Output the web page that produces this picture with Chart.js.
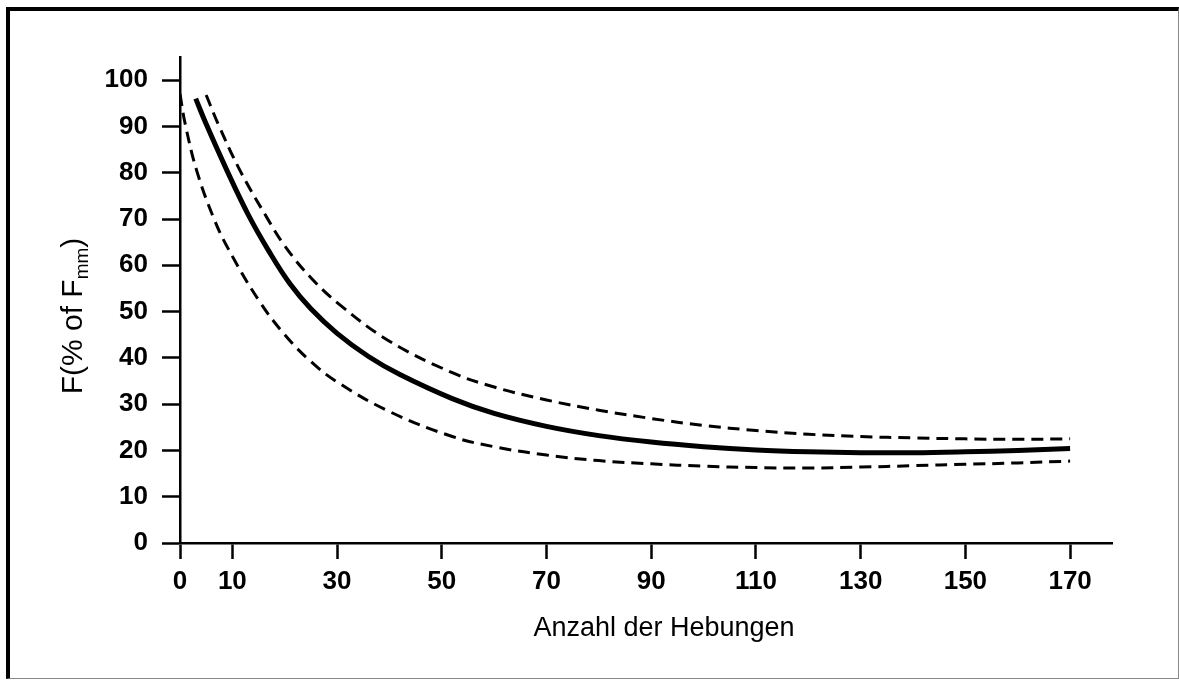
<!DOCTYPE html>
<html>
<head>
<meta charset="utf-8">
<script src="https://cdn.jsdelivr.net/npm/chart.js@4/dist/chart.umd.min.js"></script>
<style>
  html, body { margin: 0; padding: 0; background: #fff; }
  #frame {
    position: absolute; left: 6px; top: 7px; width: 1168px; height: 667px;
    border-top: 4px solid #000; border-left: 4px solid #000;
    border-right: 1px solid #888; border-bottom: 1px solid #888;
  }
  #grafico { position: absolute; left: 0; top: 0; }
</style>
</head>
<body>
<div id="frame"></div>
<canvas id="grafico" width="1179" height="680"></canvas>
<script>
// Datos
const xTicks = [0, 10, 30, 50, 70, 90, 110, 130, 150, 170];
const yTicks = [0, 10, 20, 30, 40, 50, 60, 70, 80, 90, 100];

// curva media (linea continua)
const mediaX = [3, 5, 9, 13, 17, 21, 25, 30, 36, 42, 52, 60, 70, 80, 90, 100, 110, 120, 130, 140, 150, 160, 170];
const mediaY = [96, 90.5, 80.4, 71, 63, 56, 50.6, 45.3, 40.3, 36.4, 31.2, 28, 25.2, 23.2, 21.8, 20.8, 20.1, 19.7, 19.5, 19.5, 19.7, 20, 20.4];

// limite superior (discontinua)
const superiorX = [5, 7.3, 11.5, 16.6, 20, 25, 30.6, 40, 52, 60, 70, 80, 90, 100, 110, 120, 130, 140, 150, 160, 170];
const superiorY = [96.8, 90.5, 80.4, 70.3, 64.2, 57.3, 51.4, 43.6, 36.8, 33.7, 30.9, 28.7, 26.9, 25.4, 24.3, 23.5, 23, 22.7, 22.5, 22.4, 22.5];

// limite inferior (discontinua)
const inferiorX = [0, 1, 3.2, 6.4, 9.2, 15, 20, 25, 30, 40, 52, 60, 70, 80, 90, 100, 110, 120, 130, 140, 150, 160, 170];
const inferiorY = [97, 90.5, 80.4, 70.3, 63.6, 52.5, 45, 39.2, 34.8, 28.4, 23, 20.8, 19, 17.8, 17.1, 16.6, 16.3, 16.2, 16.4, 16.7, 17, 17.3, 17.7];

function puntos(xs, ys) {
  return xs.map(function(x, i) { return { x: x, y: ys[i] }; });
}

// titulos de ejes (con subindice en el eje y)
const titulosEjes = {
  id: 'titulosEjes',
  afterDraw: function(chart) {
    const ctx = chart.ctx;
    ctx.save();
    ctx.fillStyle = '#000';
    ctx.textBaseline = 'alphabetic';

    ctx.font = '27px "Liberation Sans", Arial, sans-serif';
    ctx.textAlign = 'center';
    ctx.fillText('Anzahl der Hebungen', 664, 636);

    ctx.translate(82, 316);
    ctx.rotate(-Math.PI / 2);
    const f1 = '30px "Liberation Sans", Arial, sans-serif';
    const f2 = '19px "Liberation Sans", Arial, sans-serif';
    ctx.font = f1;
    const a = 'F(% of F';
    const wa = ctx.measureText(a).width;
    const wc = ctx.measureText(')').width;
    ctx.font = f2;
    const wb = ctx.measureText('mm').width;
    let x = -(wa + wb + wc) / 2;
    ctx.textAlign = 'left';
    ctx.font = f1;
    ctx.fillText(a, x, 0);
    x += wa;
    ctx.font = f2;
    ctx.fillText('mm', x, 6);
    x += wb;
    ctx.font = f1;
    ctx.fillText(')', x, 0);
    ctx.restore();
  }
};

const fuenteTicks = { family: '"Liberation Sans", Arial, sans-serif', size: 26, weight: 'bold' };

const ctx = document.getElementById('grafico').getContext('2d');
new Chart(ctx, {
  type: 'line',
  data: {
    datasets: [
      {
        label: 'media',
        data: puntos(mediaX, mediaY),
        borderColor: '#000',
        borderWidth: 5,
        pointRadius: 0,
        tension: 0.4
      },
      {
        label: 'superior',
        data: puntos(superiorX, superiorY),
        borderColor: '#000',
        borderWidth: 3,
        borderDash: [12, 7],
        pointRadius: 0,
        tension: 0.4
      },
      {
        label: 'inferior',
        data: puntos(inferiorX, inferiorY),
        borderColor: '#000',
        borderWidth: 3,
        borderDash: [12, 7],
        pointRadius: 0,
        tension: 0.4
      }
    ]
  },
  options: {
    responsive: false,
    animation: false,
    layout: { padding: { left: 0, right: 67, top: 57, bottom: 0 } },
    plugins: { legend: { display: false }, tooltip: { enabled: false } },
    scales: {
      x: {
        type: 'linear',
        min: 0,
        max: 178,
        afterFit: function(s) { s.height = 137; },
        afterBuildTicks: function(s) { s.ticks = xTicks.map(function(v) { return { value: v }; }); },
        grid: { drawOnChartArea: false, color: '#000', tickLength: 16, tickWidth: 2.5 },
        border: { color: '#000', width: 2.5 },
        ticks: { color: '#000', padding: 7, maxRotation: 0, autoSkip: false, font: fuenteTicks }
      },
      y: {
        min: 0,
        max: 105,
        afterFit: function(s) { s.width = 180; },
        afterBuildTicks: function(s) { s.ticks = yTicks.map(function(v) { return { value: v }; }); },
        grid: { drawOnChartArea: false, color: '#000', tickLength: 18, tickWidth: 2.5 },
        border: { color: '#000', width: 2.5 },
        ticks: { color: '#000', padding: 14, autoSkip: false, font: fuenteTicks }
      }
    }
  },
  plugins: [titulosEjes]
});
</script>
</body>
</html>
